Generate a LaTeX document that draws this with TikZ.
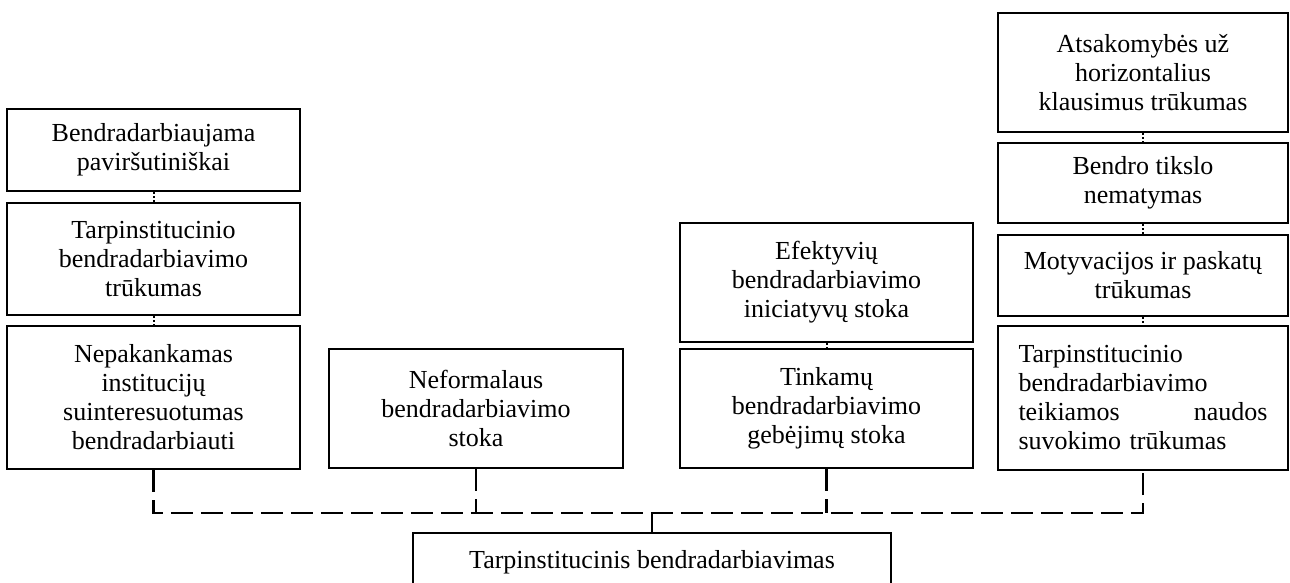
\documentclass[tikz,border=0pt]{standalone}
\usepackage{fontspec}
\setmainfont{Liberation Serif}

\begin{document}
\begin{tikzpicture}[
  x = 1pt, y = -1pt,
  every node/.style = {font=\fontsize{26}{29}\selectfont, inner sep=0pt},
  box/.style = {draw, line width=2.6pt, align=center, minimum width=293pt},
  tie/.style = {draw, dotted, line width=2pt},
  link/.style = {draw, line width=2.6pt, dash pattern=on 22pt off 8pt},
]

\useasboundingbox (0,0) rectangle (1290,583);

% left column
\node[box, minimum height=82pt]  (shallow)  at (153.5, 150.0) {Bendradarbiaujama\\paviršutiniškai};
\node[box, minimum height=112pt] (lackint)  at (153.5, 259.0) {Tarpinstitucinio\\bendradarbiavimo\\trūkumas};
\node[box, minimum height=143pt] (interest) at (153.5, 397.5) {Nepakankamas\\institucijų\\suinteresuotumas\\bendradarbiauti};

\node[box, minimum width=294pt, minimum height=119pt] (informal) at (476.0, 408.5) {Neformalaus\\bendradarbiavimo\\stoka};

\node[box, minimum height=119pt] (initiat) at (826.5, 282.5) {Efektyvių\\bendradarbiavimo\\iniciatyvų stoka};
\node[box, minimum height=119pt] (skills)  at (826.5, 408.5) {Tinkamų\\bendradarbiavimo\\gebėjimų stoka};

% right column
\node[box, minimum width=290pt, minimum height=119pt] (respons) at (1143.0,  72.5) {Atsakomybės už\\horizontalius\\klausimus trūkumas};
\node[box, minimum width=290pt, minimum height=80pt]  (goal)    at (1143.0, 183.0) {Bendro tikslo\\nematymas};
\node[box, minimum width=290pt, minimum height=81pt]  (motiv)   at (1143.0, 275.5) {Motyvacijos ir paskatų\\trūkumas};
\node[box, minimum width=290pt, minimum height=144pt, text width=249pt, align=left] (benefit) at (1143.0, 398.0)
  {Tarpinstitucinio\\bendradarbiavimo\\\makebox[249pt][l]{teikiamos\hfill naudos}\\suvokimo trūkumas};

\node[box, minimum width=478pt, minimum height=58pt] (main) at (652.0, 562.0) {Tarpinstitucinis bendradarbiavimas};

\foreach \p/\c in {shallow/lackint, lackint/interest, initiat/skills,
                   respons/goal, goal/motiv, motiv/benefit}
  \draw[tie] (\p) -- (\c);

\coordinate (hub) at (652.0, 513.0);
\draw[link] (interest.south) |- (hub) -| (benefit.south);
\draw[link] (informal.south) -- (informal.south |- hub);
\draw[link] (skills.south) -- (skills.south |- hub);
\draw[link] (hub) -- (main.north);

\end{tikzpicture}
\end{document}
